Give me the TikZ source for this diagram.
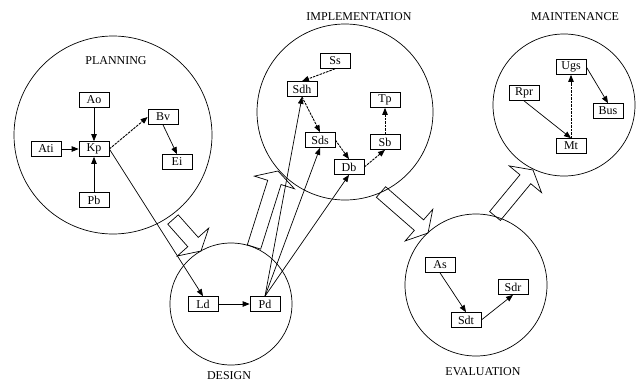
\documentclass[tikz,border=0pt]{standalone}
\usepackage{fontspec}
\setmainfont{Liberation Serif}
\usetikzlibrary{arrows.meta,calc}

\tikzset{
  every node/.style={font=\fontsize{12}{14}\selectfont},
  box/.style={draw, line width=0.7pt, minimum width=30pt, minimum height=15pt, inner sep=1pt},
  phase/.style={draw, circle, line width=0.7pt, inner sep=0pt, outer sep=0pt},
  title/.style={inner sep=0pt},
  link/.style={line width=0.7pt, -{Triangle[length=7pt,width=5.5pt]}},
  dlink/.style={link, line width=0.9pt, dash pattern=on 2.5pt off 1pt},
  hollow/.style={draw, line width=0.7pt, line join=miter}
}

% hollow block arrow from #1 (tail) to #2 (tip)
\newcommand\hollowarrow[2]{%
  \coordinate (hb) at ($(#2)!12pt!(#1)$);
  \draw[hollow] ($(#1)!7pt!90:(#2)$) -- ($(hb)!7pt!90:(#2)$) -- ($(hb)!21pt!90:(#2)$)
    -- (#2) -- ($(hb)!21pt!-90:(#2)$) -- ($(hb)!7pt!-90:(#2)$) -- ($(#1)!7pt!-90:(#2)$) -- cycle;
}

\begin{document}
\begin{tikzpicture}[x=1pt, y=-1pt]
\useasboundingbox (0,0) rectangle (639,383);

% phase circles
\node[phase, minimum size=198pt] (plan) at (113,135) {};
\node[phase, minimum size=122pt] (des)  at (231,304) {};
\node[phase, minimum size=176pt] (impl) at (345,112) {};
\node[phase, minimum size=142pt] (main) at (564,105) {};
\node[phase, minimum size=142pt] (eval) at (476,285) {};

% phase titles
\node[title] (tplan) at (116,61)  {PLANNING};
\node[title] (tdes)  at (229,376) {DESIGN};
\node[title] (timpl) at (359,17)  {IMPLEMENTATION};
\node[title] (tmain) at (575,17)  {MAINTENANCE};
\node[title] (teval) at (483,372) {EVALUATION};

% planning
\node[box] (Ao)  at (94,100)  {Ao};
\node[box] (Kp)  at (94,149)  {Kp};
\node[box] (Ati) at (46,149)  {Ati};
\node[box] (Pb)  at (94,200)  {Pb};
\node[box] (Bv)  at (163,117) {Bv};
\node[box] (Ei)  at (177,162) {Ei};

% design
\node[box] (Ld) at (203,304) {Ld};
\node[box] (Pd) at (265,304) {Pd};

% implementation
\node[box] (Ss)  at (335,61)  {Ss};
\node[box] (Sdh) at (302,89)  {Sdh};
\node[box] (Tp)  at (385,100) {Tp};
\node[box] (Sds) at (320,140) {Sds};
\node[box] (Sb)  at (385,142) {Sb};
\node[box] (Db)  at (349,167) {Db};

% maintenance
\node[box] (Ugs) at (571,67)  {Ugs};
\node[box] (Rpr) at (524,93)  {Rpr};
\node[box] (Bus) at (608,111) {Bus};
\node[box] (Mt)  at (571,146) {Mt};

% evaluation
\node[box] (As)  at (440,265) {As};
\node[box] (Sdr) at (513,287) {Sdr};
\node[box] (Sdt) at (466,320) {Sdt};

% transitions between phases
\coordinate (t1) at (173,219.5); \coordinate (h1) at (201,251);
\coordinate (t2) at (254,247);   \coordinate (h2) at (278,171);
\coordinate (t3) at (381,192);   \coordinate (h3) at (428,233);
\coordinate (t4) at (495,216);   \coordinate (h4) at (533,170);
\hollowarrow{t1}{h1}
\hollowarrow{t2}{h2}
\hollowarrow{t3}{h3}
\hollowarrow{t4}{h4}

% planning links
\draw[link] (Ao.south) -- (Kp.north);
\draw[link] (Ati.east) -- (Kp.west);
\draw[link] (Pb.north) -- (Kp.south);
\draw[dlink] (Kp.east) -- (Bv.west);
\draw[link] (Bv.south) -- (Ei.north);
\draw[link] (Kp.east) -- (Ld.north);

% design links
\draw[link] (Ld.east) -- (Pd.west);
\draw[link] (Pd.north) -- (Sdh.south);
\draw[link] (Pd.north) -- (Sds.south);
\draw[link] (Pd.north) -- (Db.south);

% implementation links
\draw[dlink] (Ss.south) -- (Sdh.north);
\draw[dlink] (Sdh.south) -- (Sds.north);
\draw[dlink] (Sds.east) -- (Db.north);
\draw[dlink] (Db.east) -- (Sb.south);
\draw[dlink] (Sb.north) -- (Tp.south);

% maintenance links
\draw[link] (Rpr.south) -- (Mt.north);
\draw[dlink] (Mt.north) -- (Ugs.south);
\draw[link] (Ugs.east) -- (Bus.north);

% evaluation links
\draw[link] (As.south) -- (Sdt.north);
\draw[link] (Sdt.east) -- (Sdr.south);
\end{tikzpicture}
\end{document}
